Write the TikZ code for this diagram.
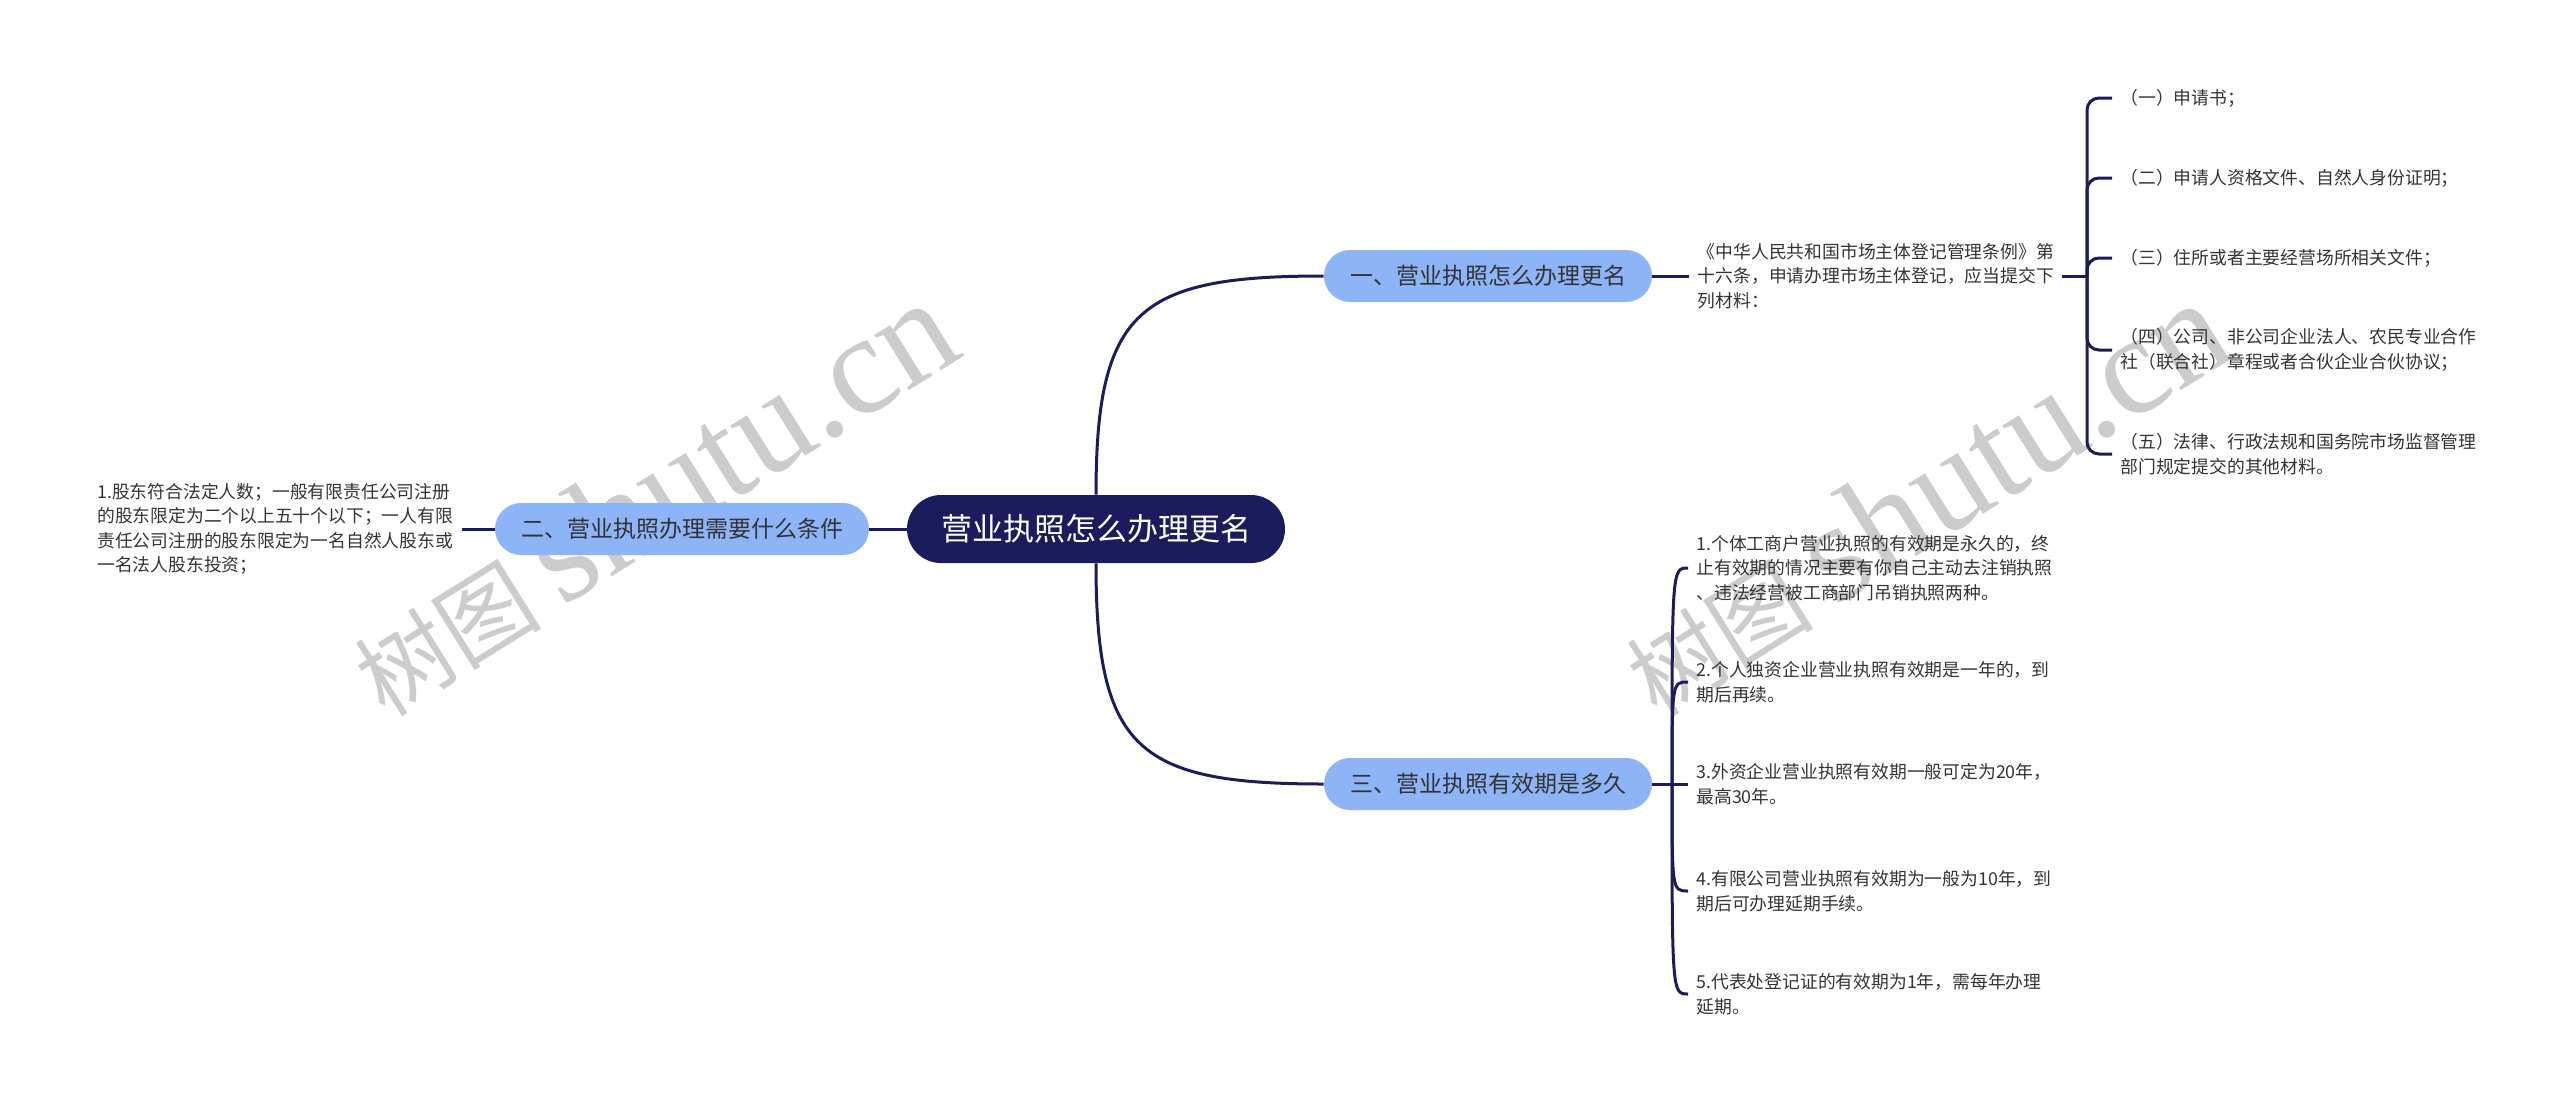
\documentclass[tikz,border=0pt]{standalone}
\usepackage{fontspec}
\setmainfont{Noto Sans CJK SC}
\newfontfamily\latinserif{Liberation Serif}
\usetikzlibrary{positioning}
\definecolor{navy}{HTML}{1C1C5C}
\definecolor{sky}{HTML}{8DB4F6}
\definecolor{ink}{HTML}{333333}

\begin{document}
\begin{tikzpicture}[x=0.5pt,y=0.5pt,
	core/.style={rounded corners=17pt,fill=navy,text=white,minimum height=34pt,inner xsep=17pt,font=\fontsize{15.5}{18}\selectfont},
	topic/.style={rounded corners=13pt,fill=sky,text=ink,minimum height=26pt,inner xsep=13pt,font=\fontsize{11.5}{14}\selectfont},
	note/.style={align=left,text=ink,inner xsep=4pt,inner ysep=2pt,font=\fontsize{8.9}{12.25}\selectfont},
	wire/.style={draw=navy,line width=1.5pt},
	stamp/.style={text=black!20,rotate=32,inner sep=0pt}]

	\useasboundingbox (0,0) rectangle (2560,-1104);

	\node[stamp] (wm1) at (652,-498) {\fontsize{47}{47}\selectfont 树图 {\latinserif\fontsize{71}{71}\selectfont shutu.cn}};
	\node[stamp] (wm2) at (1924,-498) {\fontsize{47}{47}\selectfont 树图 {\latinserif\fontsize{71}{71}\selectfont shutu.cn}};

	\node[core] (root) at (1096,-529) {营业执照怎么办理更名};
	\node[topic] (b1) at (1488,-276) {一、营业执照怎么办理更名};
	\node[topic] (b2) at (682,-529) {二、营业执照办理需要什么条件};
	\node[topic] (b3) at (1488,-784) {三、营业执照有效期是多久};

	\path[wire] (root.north) edge[out=90,in=180,looseness=1.5] (b1.west);
	\path[wire] (root.south) edge[out=-90,in=180,looseness=1.5] (b3.west);
	\path[wire] (root) edge (b2);

	\node[note] (b2leaf) [left=16.5pt of b2] {1.股东符合法定人数；一般有限责任公司注册\\的股东限定为二个以上五十个以下；一人有限\\责任公司注册的股东限定为一名自然人股东或\\一名法人股东投资；};
	\path[wire] (b2) edge (b2leaf);

	\node[note] (b1leaf) [right=18.5pt of b1] {《中华人民共和国市场主体登记管理条例》第\\十六条，申请办理市场主体登记，应当提交下\\列材料：};
	\path[wire] (b1) edge (b1leaf);

	\coordinate (j1) at (2087,-276);
	\node[note,anchor=west] (r1) at (2112,-98) {（一）申请书；};
	\node[note,anchor=west] (r2) at (2112,-178) {（二）申请人资格文件、自然人身份证明；};
	\node[note,anchor=west] (r3) at (2112,-258) {（三）住所或者主要经营场所相关文件；};
	\node[note,anchor=west] (r4) at (2112,-350) {（四）公司、非公司企业法人、农民专业合作\\社（联合社）章程或者合伙企业合伙协议；};
	\node[note,anchor=west] (r5) at (2112,-454) {（五）法律、行政法规和国务院市场监督管理\\部门规定提交的其他材料。};
	\draw[wire] (b1leaf) -- (j1);
	\draw[wire,rounded corners=6pt] (j1) |- (r1.west);
	\draw[wire,rounded corners=6pt] (j1) |- (r2.west);
	\draw[wire,rounded corners=6pt] (j1) |- (r3.west);
	\draw[wire,rounded corners=6pt] (j1) |- (r4.west);
	\draw[wire,rounded corners=6pt] (j1) |- (r5.west);

	\coordinate (j3) at (1672,-784);
	\node[note,anchor=west] (t1) at (1688,-568) {1.个体工商户营业执照的有效期是永久的，终\\止有效期的情况主要有你自己主动去注销执照\\、违法经营被工商部门吊销执照两种。};
	\node[note,anchor=west] (t2) at (1688,-682) {2.个人独资企业营业执照有效期是一年的，到\\期后再续。};
	\node[note,anchor=west] (t3) at (1688,-784) {3.外资企业营业执照有效期一般可定为20年，\\最高30年。};
	\node[note,anchor=west] (t4) at (1688,-891) {4.有限公司营业执照有效期为一般为10年，到\\期后可办理延期手续。};
	\node[note,anchor=west] (t5) at (1688,-994) {5.代表处登记证的有效期为1年，需每年办理\\延期。};
	\draw[wire] (b3) -- (j3);
	\draw[wire] (j3) .. controls (j3 |- t1.west) .. (t1.west);
	\draw[wire] (j3) .. controls (j3 |- t2.west) .. (t2.west);
	\draw[wire] (j3) -- (t3.west);
	\draw[wire] (j3) .. controls (j3 |- t4.west) .. (t4.west);
	\draw[wire] (j3) .. controls (j3 |- t5.west) .. (t5.west);

\end{tikzpicture}
\end{document}
